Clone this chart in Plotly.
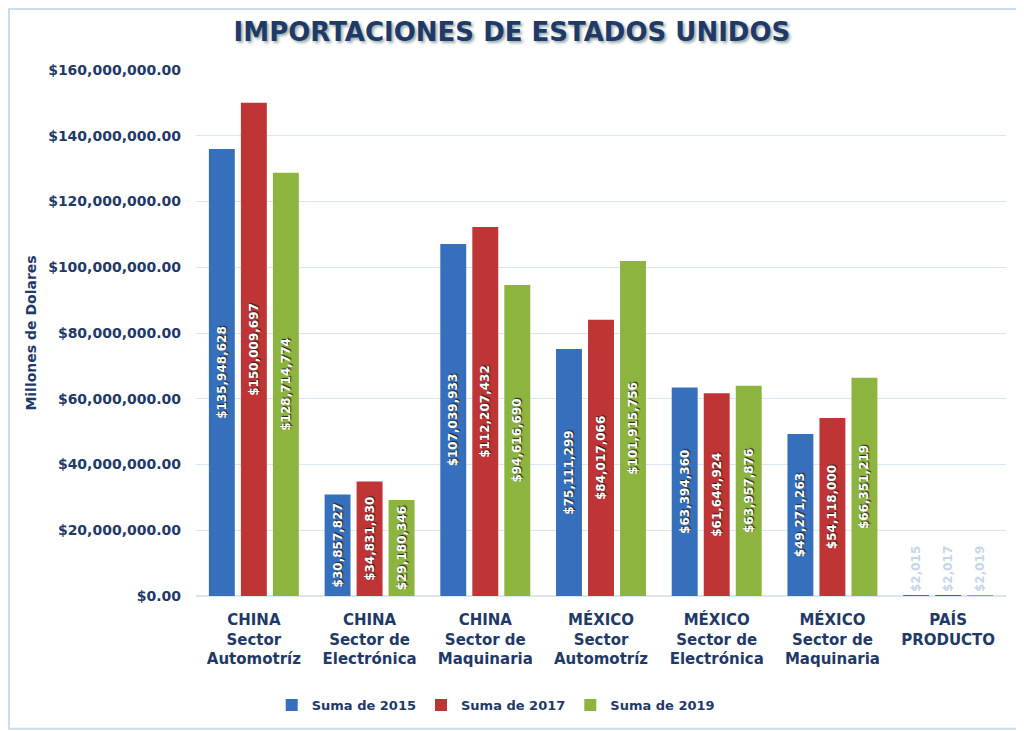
import plotly.graph_objects as go

categorias = [
    "CHINA<br>Sector<br>Automotríz",
    "CHINA<br>Sector de<br>Electrónica",
    "CHINA<br>Sector de<br>Maquinaria",
    "MÉXICO<br>Sector<br>Automotríz",
    "MÉXICO<br>Sector de<br>Electrónica",
    "MÉXICO<br>Sector de<br>Maquinaria",
    "PAÍS<br>PRODUCTO",
]

suma_2015 = [135948628, 30857827, 107039933, 75111299, 63394360, 49271263, 2015]
suma_2017 = [150009697, 34831830, 112207432, 84017066, 61644924, 54118000, 2017]
suma_2019 = [128714774, 29180346, 94616690, 101915756, 63957876, 66351219, 2019]

series = [
    ("Suma de 2015", suma_2015, "#3670BC"),
    ("Suma de 2017", suma_2017, "#BF3535"),
    ("Suma de 2019", suma_2019, "#8DB43F"),
]

navy = "#1F3A68"
fuente = "DejaVu Sans"

fig = go.Figure()
for nombre, valores, color in series:
    posiciones = ["inside"] * (len(valores) - 1) + ["outside"]
    fig.add_trace(go.Bar(
        x=categorias, y=valores, name=nombre,
        marker=dict(color=color, line=dict(width=0)),
        texttemplate="$%{y:,.0f}",
        textposition=posiciones,
        insidetextanchor="middle",
        textangle=-90,
        constraintext="none",
        insidetextfont=dict(family=fuente, size=12, color="white", weight="bold",
                            shadow="1px 1px 1px #222"),
        outsidetextfont=dict(family=fuente, size=12, color="#C9D5E8", weight="bold"),
        cliponaxis=False,
    ))

# la página pone 8px de margen, así que se compensa aquí
fig.update_layout(
    width=1016, height=723,
    paper_bgcolor="white", plot_bgcolor="white",
    margin=dict(l=188, r=18, t=62, b=134),
    barmode="group", bargap=0.17, bargroupgap=0.19,
    title=dict(text="<b>IMPORTACIONES DE ESTADOS UNIDOS</b>",
               x=0.496, xanchor="center", y=1 - 24 / 723, yanchor="middle",
               font=dict(family=fuente, size=26, color=navy, shadow="2px 2px 3px #9aa")),
    legend=dict(orientation="h", x=0.37, xanchor="center", y=-0.205, yanchor="middle",
                font=dict(family=fuente, size=13, color=navy, weight="bold"),
                itemwidth=30, traceorder="normal"),
    font=dict(family=fuente, color=navy),
)

fig.update_yaxes(
    range=[0, 160000000], dtick=20000000, tickformat="$,.2f",
    gridcolor="#DCE6F2", gridwidth=1, zeroline=True, zerolinecolor="#DCE6F2",
    tickfont=dict(family=fuente, size=14, color=navy, weight="bold"),
    ticklabelstandoff=14,
    title=dict(text="Millones de Dolares", standoff=8,
               font=dict(family=fuente, size=14, color=navy, weight="bold")),
)
fig.update_xaxes(
    showgrid=False, showline=True, linecolor="#DCE6F2",
    tickfont=dict(family=fuente, size=15, color=navy, weight="bold"),
    ticklabelstandoff=10,
)

# marco del gráfico
fig.add_shape(type="rect", xref="paper", yref="paper",
              x0=-187 / 810, x1=1 + 17 / 810, y0=-133 / 527, y1=1 + 61 / 527,
              line=dict(color="#C9DCF0", width=2))

fig.write_html("out.html")
